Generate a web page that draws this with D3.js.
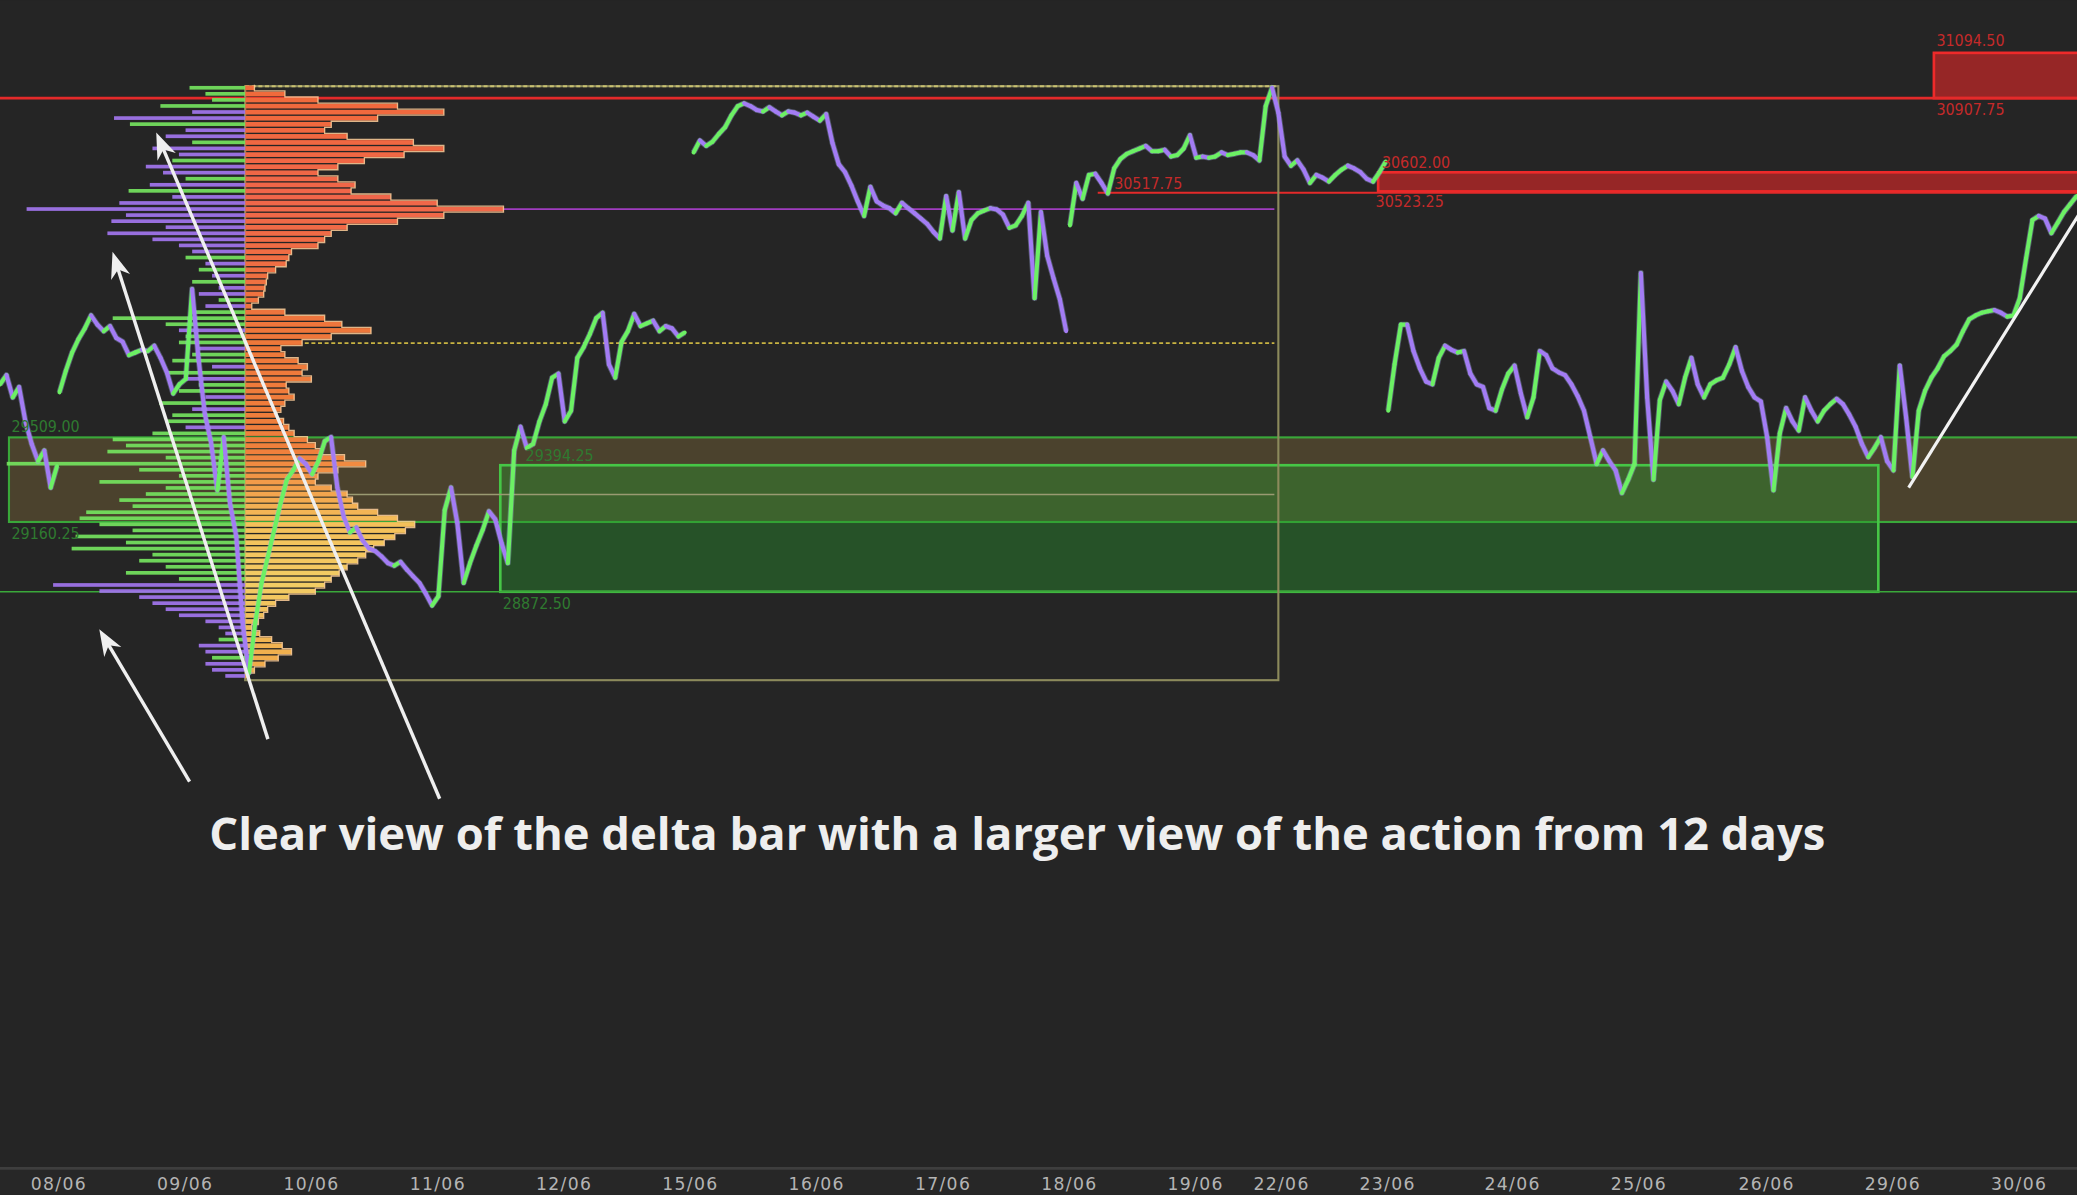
<!DOCTYPE html>
<html>
<head>
<meta charset="utf-8">
<script src="https://cdn.jsdelivr.net/npm/d3@7"></script>
<style>
  html, body { margin: 0; padding: 0; background: #252525; overflow: hidden; }
  svg { display: block; }
</style>
</head>
<body>
<div id="chart"></div>
<script>
// ---------- data (prices) ----------
const dayLabels = ["08/06","09/06","10/06","11/06","12/06","15/06","16/06","17/06","18/06","19/06","22/06","23/06","24/06","25/06","26/06","29/06","30/06"];
const dayBars   = [0, 100, 200, 300, 400, 500, 600, 700, 800, 900, 968, 1052, 1151, 1251, 1352, 1452, 1552];

// price sessions, one value every 5 bars
const barStep = 5;
const sessionStarts = [-46, 1, 503, 801, 1053];
const sessionA = [29728,29766,29674,29717,29575,29482,29411,29455,29302,29390];
const sessionB = [29695,29783,29859,29914,29958,30012,29974,29947,29968,29919,
                  29903,29848,29859,29870,29865,29887,29837,29777,29690,29728,
                  29750,30121,29837,29608,29488,29291,29510,29237,29100,28745,
                  28538,28745,28909,29018,29127,29237,29335,29373,29422,29400,
                  29357,29411,29493,29510,29302,29182,29117,29138,29084,29051,
                  29040,29018,28991,28980,28996,28964,28936,28909,28865,28816,
                  28854,29209,29302,29155,28909,28991,29062,29127,29204,29171,
                  29073,28991,29455,29553,29466,29482,29575,29646,29755,29772,
                  29575,29619,29837,29881,29936,30001,30023,29810,29755,29903,
                  29947,30018,29968,29979,29990,29947,29968,29958,29925,29941];
const sessionC = [30684,30733,30711,30728,30760,30788,30837,30875,30886,30875,
                  30859,30853,30870,30853,30837,30853,30848,30837,30848,30831,
                  30815,30842,30722,30635,30602,30547,30482,30422,30542,30482,
                  30465,30454,30433,30476,30454,30433,30411,30389,30356,30329,
                  30504,30362,30520,30329,30405,30433,30444,30454,30449,30427,
                  30373,30383,30422,30476,30083,30438,30258,30165,30078,29947];
const sessionD = [30383,30558,30493,30591,30596,30558,30515,30618,30657,30678,
                  30689,30700,30711,30689,30689,30695,30667,30673,30700,30755,
                  30662,30667,30662,30667,30684,30673,30678,30684,30684,30673,
                  30651,30875,30951,30848,30667,30629,30651,30613,30558,30591,
                  30580,30564,30591,30613,30629,30618,30602,30575,30564,30602,30646];
const sessionE = [29619,29810,29974,29974,29865,29794,29739,29728,29837,29887,
                  29870,29859,29865,29772,29728,29717,29630,29619,29706,29772,
                  29805,29690,29592,29674,29865,29848,29794,29777,29766,29728,
                  29679,29619,29510,29400,29455,29411,29373,29280,29335,29400,
                  30187,29674,29335,29663,29739,29701,29646,29755,29837,29728,
                  29674,29728,29745,29755,29810,29881,29783,29717,29674,29657,
                  29510,29291,29526,29630,29575,29537,29674,29619,29575,29619,
                  29646,29668,29646,29603,29553,29482,29428,29466,29510,29411,
                  29373,29805,29592,29346,29619,29701,29755,29794,29843,29865,
                  29892,29947,29996,30012,30023,30029,30034,30023,30007,30012,
                  30083,30247,30405,30422,30411,30351,30394,30438,30471,30504];

// 12-day volume profile, one level every 25 points from the top
const profileTopPrice = 30950;
const profileStep = 25;
const profileVolume = [7,30,55,115,150,100,65,60,77,127,
                       150,120,90,70,55,70,83,80,110,145,
                       195,150,115,77,65,60,55,35,33,31,
                       23,17,16,15,14,10,5,30,60,73,
                       95,65,43,27,30,40,47,43,50,31,
                       33,37,30,27,24,29,33,37,47,53,
                       58,75,91,70,55,53,65,77,81,85,
                       100,115,128,121,113,105,97,91,85,77,
                       71,65,60,53,33,23,17,14,10,5,
                       11,20,28,35,25,15,7,3];
const profileDelta = [42,30,25,64,-40,-99,87,-45,-60,40,
                      -70,-50,55,-75,-62,45,-72,88,-55,-95,
                      -165,-90,-101,-60,-104,-70,-50,-40,45,-30,
                      35,-25,40,-20,-35,20,-30,40,100,60,
                      -50,45,50,-35,40,55,-25,60,-45,35,
                      50,-30,65,-40,55,60,-45,70,100,90,
                      104,60,180,80,50,110,60,75,95,85,
                      120,125,110,85,128,90,131,70,80,60,
                      90,50,-145,-110,-80,-70,-60,-50,-30,-20,
                      -15,20,-35,-30,25,-30,-25,-15];
const profileBars  = [148, 966];
const profileRange = [30957, 28508];
const valueLine = 29897.75;
const midLine   = 29273.50;

// zones
const greenZoneLevels = [[29509.00, 29160.25], [29394.25, 28872.50]];
const greenZoneBars   = [[-39, 1600], [350, 1441]];
const redZoneLevels   = [[31094.50, 30907.75], [30602.00, 30523.25]];
const redZoneBars     = [[1485, 1600], [1045, 1600]];
const redLineLevels   = [30907.75, 30517.75];
const redLineBars     = [[-50, 1600], [823, 1600]];
const greenLineLevels = [28872.50];

// annotations, in bar / price coordinates
const trendLine   = [[1465, 29302], [1600, 30430]];
const arrowTails  = [[104, 28090], [166, 28265], [302, 28019]];
const arrowHeads  = [[32.5, 28718], [43, 30274], [77.6, 30766]];
const caption = "Clear view of the delta bar with a larger view of the action from 12 days";

// ---------- layout ----------
const W = 1568, H = 902, axisY = 882;
const svg = d3.select("#chart").append("svg")
    .attr("width", 2077)
    .attr("height", 1195)
    .attr("viewBox", `0 0 ${W} ${H}`);

svg.append("rect").attr("width", W).attr("height", H).attr("fill", "#252525");

const x = d3.scaleLinear().domain([-46.1, 1598.3]).range([0, W]);
const y = d3.scaleLinear().domain([31312, 26495]).range([0, axisY]);

svg.append("clipPath").attr("id", "plot")
  .append("rect").attr("width", W).attr("height", axisY);
const g = svg.append("g").attr("clip-path", "url(#plot)");

// green zones
const zoneFill   = ["rgba(145,118,60,0.36)", "rgba(40,150,44,0.40)"];
const zoneStroke = ["#39a83a", "#46c646"];
g.append("g").selectAll("rect")
  .data(greenZoneLevels)
  .join("rect")
    .attr("x", (d, i) => x(greenZoneBars[i][0]))
    .attr("width", (d, i) => x(greenZoneBars[i][1]) - x(greenZoneBars[i][0]))
    .attr("y", d => y(d[0]))
    .attr("height", d => y(d[1]) - y(d[0]))
    .attr("fill", (d, i) => zoneFill[i])
    .attr("stroke", (d, i) => zoneStroke[i])
    .attr("stroke-width", (d, i) => i ? 2 : 1.6);

g.selectAll(".gline")
  .data(greenLineLevels)
  .join("line")
    .attr("x1", 0).attr("x2", W)
    .attr("y1", d => y(d)).attr("y2", d => y(d))
    .attr("stroke", "#3aa83a").attr("stroke-width", 1.2);

// red zones and lines
g.append("g").selectAll("rect")
  .data(redZoneLevels)
  .join("rect")
    .attr("x", (d, i) => x(redZoneBars[i][0]))
    .attr("width", (d, i) => x(redZoneBars[i][1]) - x(redZoneBars[i][0]))
    .attr("y", d => y(d[0]))
    .attr("height", d => y(d[1]) - y(d[0]))
    .attr("fill", "#962626")
    .attr("stroke", "#ee2a2a")
    .attr("stroke-width", 2);

g.append("g").selectAll("line")
  .data(redLineLevels)
  .join("line")
    .attr("x1", (d, i) => x(redLineBars[i][0]))
    .attr("x2", (d, i) => x(redLineBars[i][1]))
    .attr("y1", d => y(d)).attr("y2", d => y(d))
    .attr("stroke", "#e42a2a")
    .attr("stroke-width", (d, i) => i ? 1.6 : 2.2);

// profile box and its lines
const px0 = x(profileBars[0]), px1 = x(profileBars[1]);
g.append("rect")
    .attr("x", px0).attr("width", px1 - px0)
    .attr("y", y(profileRange[0])).attr("height", y(profileRange[1]) - y(profileRange[0]))
    .attr("fill", "none").attr("stroke", "#8c8a5c").attr("stroke-width", 1.6);
g.append("line")
    .attr("x1", px0).attr("x2", px1)
    .attr("y1", y(profileRange[0])).attr("y2", y(profileRange[0]))
    .attr("stroke", "#c8c070").attr("stroke-width", 1.4).attr("stroke-dasharray", "3,2");

g.append("line")
    .attr("x1", px0).attr("x2", px1 - 3)
    .attr("y1", y(valueLine)).attr("y2", y(valueLine))
    .attr("stroke", "#c9b442").attr("stroke-width", 1.3).attr("stroke-dasharray", "3,2");
g.append("line")
    .attr("x1", px0).attr("x2", px1 - 3)
    .attr("y1", y(midLine)).attr("y2", y(midLine))
    .attr("stroke", "#9a9a72").attr("stroke-width", 1.1);

// profile levels
const levels = profileVolume.map((v, i) => ({
  price: profileTopPrice - i * profileStep,
  vol: v,
  delta: profileDelta[i]
}));
const poc = levels.reduce((a, b) => b.vol > a.vol ? b : a);
g.append("line")
    .attr("x1", px0).attr("x2", px1 - 3)
    .attr("y1", y(poc.price)).attr("y2", y(poc.price))
    .attr("stroke", "#a03cc0").attr("stroke-width", 1.4);

const vol = d3.scaleLinear().domain([0, 200]).range([0, 200]);
const profColor = d3.scaleLinear()
    .domain([30950, 30500, 29900, 29450, 29150, 28900, 28550])
    .range(["#f06a3a", "#f0664a", "#ee783a", "#f0803c", "#f4c05a", "#f2cc64", "#f0a848"]);
const bandTop = d => y(d.price + profileStep / 2);
const bandH = y(0) - y(profileStep);

g.append("g").selectAll("rect")
  .data(levels)
  .join("rect")
    .attr("x", px0)
    .attr("y", d => bandTop(d) + 0.5)
    .attr("width", d => vol(d.vol))
    .attr("height", bandH - 1)
    .attr("fill", d => profColor(d.price));

const edge = [];
levels.forEach(d => {
  edge.push([px0 + vol(d.vol), bandTop(d)]);
  edge.push([px0 + vol(d.vol), bandTop(d) + bandH]);
});
g.append("path")
    .attr("d", d3.line()(edge))
    .attr("fill", "none").attr("stroke", "#ffcf9a").attr("stroke-width", 1).attr("opacity", 0.85);

// delta bars to the left of the profile
g.append("g").selectAll("rect")
  .data(levels)
  .join("rect")
    .attr("x", d => px0 - vol(Math.abs(d.delta)))
    .attr("y", d => bandTop(d) + 0.8)
    .attr("width", d => vol(Math.abs(d.delta)))
    .attr("height", bandH - 1.8)
    .attr("fill", d => d.delta >= 0 ? "#74e35e" : "#a275ee")
    .attr("opacity", 0.92);

// price line, green when rising, purple when falling
const sessions = [sessionA, sessionB, sessionC, sessionD, sessionE];
const moves = [];
sessions.forEach((s, k) => {
  for (let i = 1; i < s.length; i++) {
    moves.push({
      b0: sessionStarts[k] + (i - 1) * barStep, p0: s[i - 1],
      b1: sessionStarts[k] + i * barStep, p1: s[i]
    });
  }
});
const lineG = g.append("g");
sessions.forEach((s, k) => {
  lineG.append("path")
      .attr("d", d3.line()
        .x((d, i) => x(sessionStarts[k] + i * barStep))
        .y(d => y(d))(s))
      .attr("fill", "none")
      .attr("stroke", "#a9b8f2")
      .attr("stroke-width", 4.4)
      .attr("stroke-linejoin", "round")
      .attr("opacity", 0.35);
});
lineG.selectAll("line")
  .data(moves)
  .join("line")
    .attr("x1", d => x(d.b0)).attr("y1", d => y(d.p0))
    .attr("x2", d => x(d.b1)).attr("y2", d => y(d.p1))
    .attr("stroke", d => d.p1 >= d.p0 ? "#6cf064" : "#a37cf4")
    .attr("stroke-width", 3.1)
    .attr("stroke-linecap", "round");

// trend line
g.append("line")
    .attr("x1", x(trendLine[0][0])).attr("y1", y(trendLine[0][1]))
    .attr("x2", x(trendLine[1][0])).attr("y2", y(trendLine[1][1]))
    .attr("stroke", "#f2f2f2").attr("stroke-width", 2.4);

// level labels
const labelFont = "'Liberation Sans Narrow','DejaVu Sans Condensed',sans-serif";
const fmt = d3.format(".2f");
const redLabels = [
  [redZoneBars[0][0] + 2, redZoneLevels[0][0], -5],
  [redZoneBars[0][0] + 2, redZoneLevels[0][1], 13],
  [redZoneBars[1][0] + 3, redZoneLevels[1][0], -3],
  [redZoneBars[1][0] - 2, redZoneLevels[1][1], 12],
  [redLineBars[1][0] + 13, redLineLevels[1], -3]
];
g.append("g").selectAll("text")
  .data(redLabels)
  .join("text")
    .attr("x", d => x(d[0]))
    .attr("y", d => y(d[1]) + d[2])
    .attr("fill", "#c42a2a")
    .attr("font-family", labelFont)
    .attr("font-size", 12)
    .text(d => fmt(d[1]));

const greenLabels = [
  [-37, greenZoneLevels[0][0], -4],
  [-37, greenZoneLevels[0][1], 13],
  [greenZoneBars[1][0] + 2, greenZoneLevels[1][1], 13],
  [greenZoneBars[1][0] + 20, greenZoneLevels[1][0], -3]
];
g.append("g").selectAll("text")
  .data(greenLabels)
  .join("text")
    .attr("x", d => x(d[0]))
    .attr("y", d => y(d[1]) + d[2])
    .attr("fill", "#2f7a30")
    .attr("font-family", labelFont)
    .attr("font-size", 12)
    .text(d => fmt(d[1]));

// arrows
const arrows = arrowTails.map((t, i) => ({ t: t, h: arrowHeads[i] }));
const ag = svg.append("g");
arrows.forEach(a => {
  const x0 = x(a.t[0]), y0 = y(a.t[1]), x1 = x(a.h[0]), y1 = y(a.h[1]);
  const ang = Math.atan2(y1 - y0, x1 - x0);
  const L = 20, Wd = 7.5;
  const pt = (u, v) => [x1 + u * Math.cos(ang) - v * Math.sin(ang), y1 + u * Math.sin(ang) + v * Math.cos(ang)];
  ag.append("line")
      .attr("x1", x0).attr("y1", y0)
      .attr("x2", pt(-12, 0)[0]).attr("y2", pt(-12, 0)[1])
      .attr("stroke", "#efefef").attr("stroke-width", 2.6);
  ag.append("polygon")
      .attr("points", [pt(0, 0), pt(-L, Wd), pt(-L * 0.7, 0), pt(-L, -Wd)].map(p => p.join(",")).join(" "))
      .attr("fill", "#efefef");
});

// caption
svg.append("text")
    .attr("x", W / 2 - 16)
    .attr("y", 642)
    .attr("text-anchor", "middle")
    .attr("fill", "#eeeeee")
    .attr("font-family", "'Open Sans','Noto Sans',sans-serif")
    .attr("font-weight", 700)
    .attr("font-size", 34)
    .attr("textLength", 1220)
    .attr("lengthAdjust", "spacingAndGlyphs")
    .text(caption);

// time axis
svg.append("rect").attr("x", 0).attr("y", axisY).attr("width", W).attr("height", H - axisY).attr("fill", "#272727");
svg.append("line").attr("x1", 0).attr("x2", W).attr("y1", axisY).attr("y2", axisY)
    .attr("stroke", "#3e3e3e").attr("stroke-width", 2);

const axis = svg.append("g")
    .attr("transform", `translate(0,${axisY})`)
    .call(d3.axisBottom(x)
      .tickValues(dayBars)
      .tickFormat((d, i) => dayLabels[i])
      .tickSize(0)
      .tickPadding(7));
axis.select(".domain").remove();
axis.selectAll("text")
    .attr("fill", "#b4b4b4")
    .attr("font-family", "'DejaVu Sans',sans-serif")
    .attr("font-size", 13)
    .attr("letter-spacing", 1);
</script>
</body>
</html>
